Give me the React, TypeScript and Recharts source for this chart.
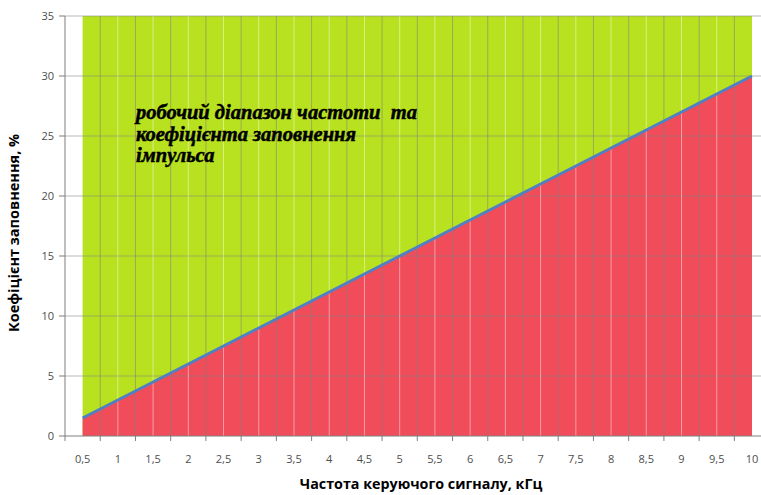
import React from "react"
import { ComposedChart, Area, Line, XAxis, YAxis, ReferenceLine } from "recharts"

// частота керуючого сигналу, кГц
const freqs = [0.5, 1, 1.5, 2, 2.5, 3, 3.5, 4, 4.5, 5, 5.5, 6, 6.5, 7, 7.5, 8, 8.5, 9, 9.5, 10]
const freqLabels = ["0,5", "1", "1,5", "2", "2,5", "3", "3,5", "4", "4,5", "5", "5,5", "6", "6,5", "7", "7,5", "8", "8,5", "9", "9,5", "10"]
// мінімальний коефіцієнт заповнення, %
const dutyMin = [1.5, 3, 4.5, 6, 7.5, 9, 10.5, 12, 13.5, 15, 16.5, 18, 19.5, 21, 22.5, 24, 25.5, 27, 28.5, 30]
// верхня межа робочої області
const dutyTop = [35, 35, 35, 35, 35, 35, 35, 35, 35, 35, 35, 35, 35, 35, 35, 35, 35, 35, 35, 35]
const yTicks = [0, 5, 10, 15, 20, 25, 30, 35]

const GREEN = "#b8e21f"
const RED = "#f14c5a"
const LINE = "#4f80c4"
const GRID = "#7f7f7f"
const X_MIN = 0.25
const X_MAX = 10.128

const data = freqs.map((f, i) => ({ f, duty: dutyMin[i], top: dutyTop[i] }))

// межі категорій (між підписами)
const bounds = [freqs[0] - 0.25, ...freqs.map((f) => f + 0.25)].filter((b) => b <= X_MAX)
const xTicks = [...bounds, ...freqs].sort((a, b) => a - b)

const XTick = (props: any) => {
  const { x, y, payload } = props
  const idx = freqs.indexOf(payload.value)
  if (idx < 0) {
    return <line x1={x} x2={x} y1={y} y2={y + 5} stroke={GRID} strokeWidth={1} />
  }
  return (
    <text x={x} y={y + 27} textAnchor="middle" fill="#4d4d4d" fontSize={11} fontFamily="Open Sans, sans-serif">
      {freqLabels[idx]}
    </text>
  )
}

const YTitle = (props: any) => {
  const { viewBox } = props
  const cx = 19
  const cy = viewBox.y + viewBox.height / 2 + 7
  return (
    <text
      x={cx}
      y={cy}
      transform={`rotate(-90 ${cx} ${cy})`}
      textAnchor="middle"
      fontSize={14.5}
      fontWeight="bold"
      fontFamily="Open Sans, sans-serif"
      fill="#000"
    >
      Коефіцієнт заповнення, %
    </text>
  )
}

export default function App() {
  return (
    <div style={{ position: "absolute", left: 0, top: 0, width: 761, height: 495, background: "#fff" }}>
      <ComposedChart width={761} height={495} data={data} margin={{ top: 16, right: 0, left: 0, bottom: 0 }}>
        <XAxis
          dataKey="f"
          type="number"
          domain={[X_MIN, X_MAX]}
          allowDataOverflow
          ticks={xTicks}
          interval={0}
          tick={<XTick />}
          tickLine={false}
          tickSize={0}
          tickMargin={0}
          axisLine={{ stroke: GRID }}
          height={59}
          label={{
            value: "Частота керуючого сигналу, кГц",
            position: "insideBottom",
            dx: 8,
            offset: 6,
            style: { fontSize: 14.3, fontWeight: "bold", fontFamily: "Open Sans, sans-serif", fill: "#000" },
          }}
        />
        <YAxis
          type="number"
          domain={[0, 35]}
          ticks={yTicks}
          width={65}
          tickSize={6}
          tickMargin={5}
          axisLine={{ stroke: GRID }}
          tickLine={{ stroke: GRID }}
          tick={{ fill: "#4d4d4d", fontSize: 11, fontFamily: "Open Sans, sans-serif" }}
          label={<YTitle />}
        />
        <Area type="linear" dataKey="top" fill={GREEN} fillOpacity={1} stroke="none" isAnimationActive={false} />
        <Area type="linear" dataKey="duty" fill={RED} fillOpacity={1} stroke="none" isAnimationActive={false} />
        {yTicks.slice(1).map((t) => (
          <ReferenceLine key={"h" + t} y={t} stroke={GRID} strokeOpacity={0.55} />
        ))}
        {bounds.slice(1).map((b) => (
          <ReferenceLine key={"b" + b} x={b} stroke={GRID} strokeOpacity={0.55} />
        ))}
        {freqs.slice(1, -1).map((f) => (
          <ReferenceLine key={"c" + f} x={f} stroke="#ffffff" strokeOpacity={0.45} />
        ))}
        <Line type="linear" dataKey="duty" stroke={LINE} strokeWidth={3} dot={false} isAnimationActive={false} />
      </ComposedChart>
      <div
        style={{
          position: "absolute",
          left: 136,
          top: 102,
          fontFamily: "Liberation Serif, serif",
          fontStyle: "italic",
          fontWeight: "bold",
          fontSize: 20.5,
          lineHeight: "21.5px",
          color: "#000",
          whiteSpace: "pre",
          WebkitTextStroke: "0.5px #000",
        }}
      >
        {"робочий діапазон частоти  та\nкоефіцієнта заповнення\nімпульса"}
      </div>
    </div>
  )
}
